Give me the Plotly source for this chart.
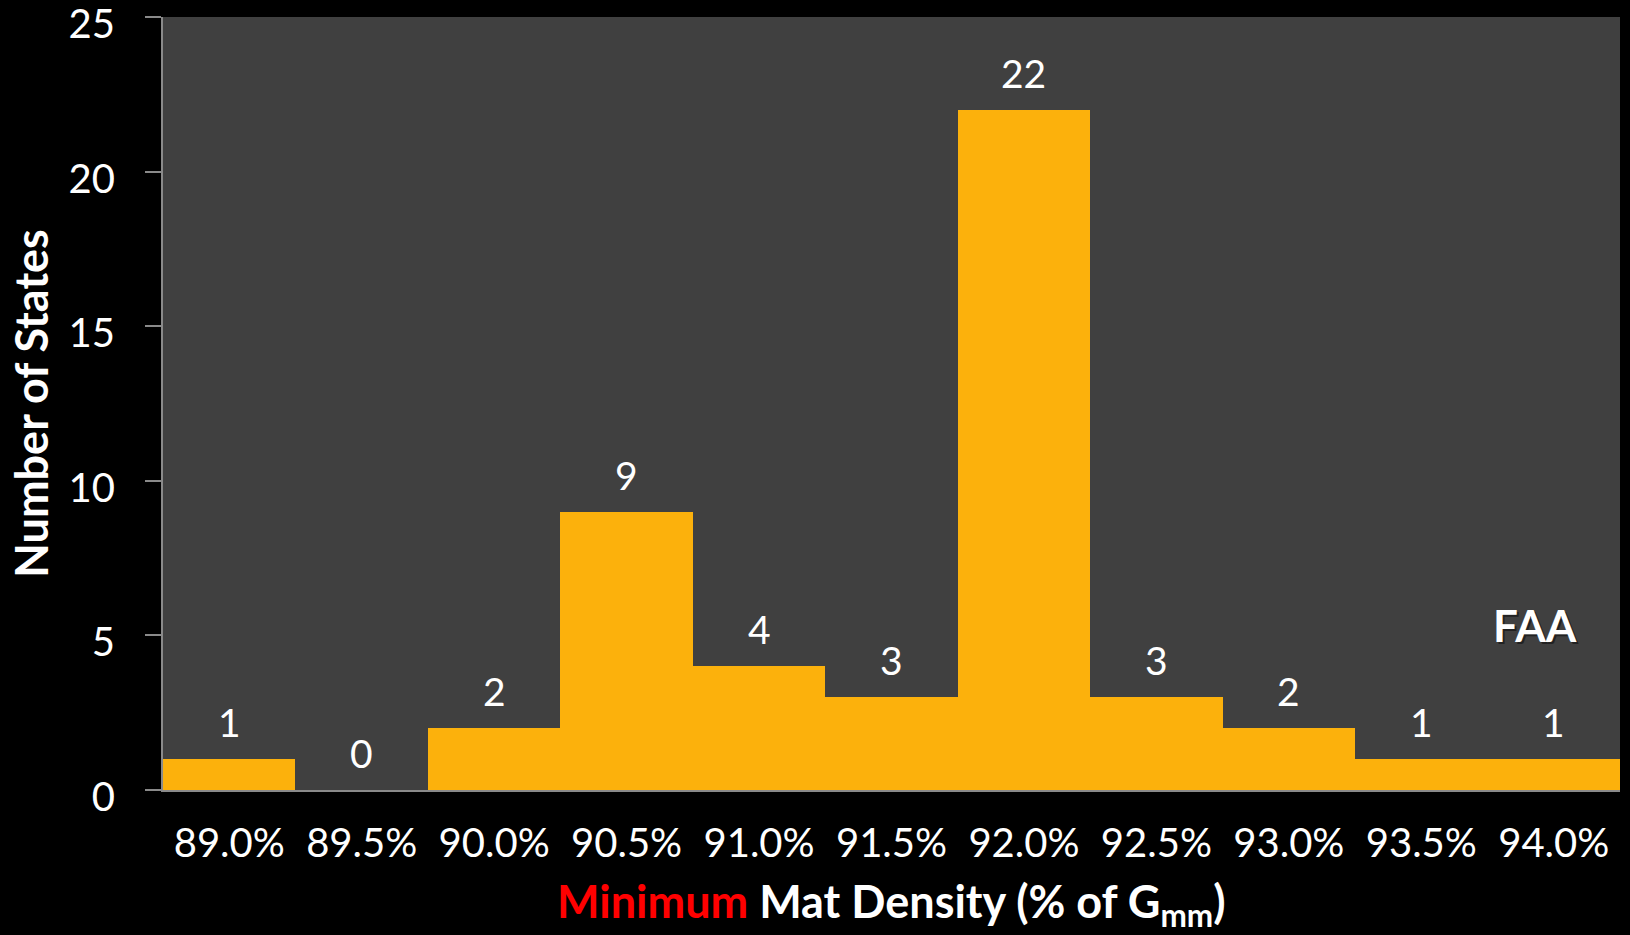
import plotly.graph_objects as go

categories = ["89.0%", "89.5%", "90.0%", "90.5%", "91.0%", "91.5%",
              "92.0%", "92.5%", "93.0%", "93.5%", "94.0%"]
counts = [1, 0, 2, 9, 4, 3, 22, 3, 2, 1, 1]
y_ticks = [0, 5, 10, 15, 20, 25]

FONT = "Lato"

fig = go.Figure()
fig.add_trace(go.Bar(
    x=categories, y=counts,
    marker=dict(color="#FCB10C", line=dict(width=0)),
    hoverinfo="x+y",
))

for c, v in zip(categories, counts):
    fig.add_annotation(x=c, y=v, text=str(v), showarrow=False,
                       yanchor="bottom", yshift=12,
                       font=dict(family=FONT, size=39, color="white"))

for dx, dy, col in [(2, -2, "#222222"), (0, 0, "white")]:
    fig.add_annotation(xref="paper", yref="paper", x=0.942, y=0.2135,
                       xanchor="center", yanchor="middle",
                       text="<b>FAA</b>", showarrow=False,
                       font=dict(family=FONT, size=44, color=col),
                       xshift=dx, yshift=dy)

# x-axis title as an annotation for exact placement
fig.add_annotation(
    xref="paper", yref="paper", x=0.5, y=-0.148,
    xanchor="center", yanchor="middle", showarrow=False,
    text='<span style="color:#FF0000">Minimum</span> Mat Density (% of G<sub>mm</sub>)',
    font=dict(family=FONT, size=45, color="white", weight="bold"),
)

fig.update_layout(
    width=1630, height=935,
    paper_bgcolor="black", plot_bgcolor="#404040",
    margin=dict(l=163, r=10, t=17, b=145, autoexpand=False),
    bargap=0,
    showlegend=False,
    xaxis=dict(
        type="category", automargin=False,
        showgrid=False, zeroline=False,
        showline=True, linecolor="#8a8a8a", linewidth=2,
        ticks="", ticklabelstandoff=17,
        tickfont=dict(family=FONT, size=40, color="white"),
    ),
    yaxis=dict(
        range=[0, 25], tickvals=y_ticks, automargin=False,
        showgrid=False, zeroline=False,
        showline=True, linecolor="#8a8a8a", linewidth=2,
        ticks="outside", ticklen=16, tickcolor="#8a8a8a", tickwidth=2,
        ticklabelstandoff=22, ticklabeloverflow="allow", ticklabelshift=7,
        tickfont=dict(family=FONT, size=40, color="white"),
        title=dict(text="Number of States",
                   font=dict(family=FONT, size=45, color="white", weight="bold"),
                   standoff=6),
    ),
)

fig.write_html("out.html")
